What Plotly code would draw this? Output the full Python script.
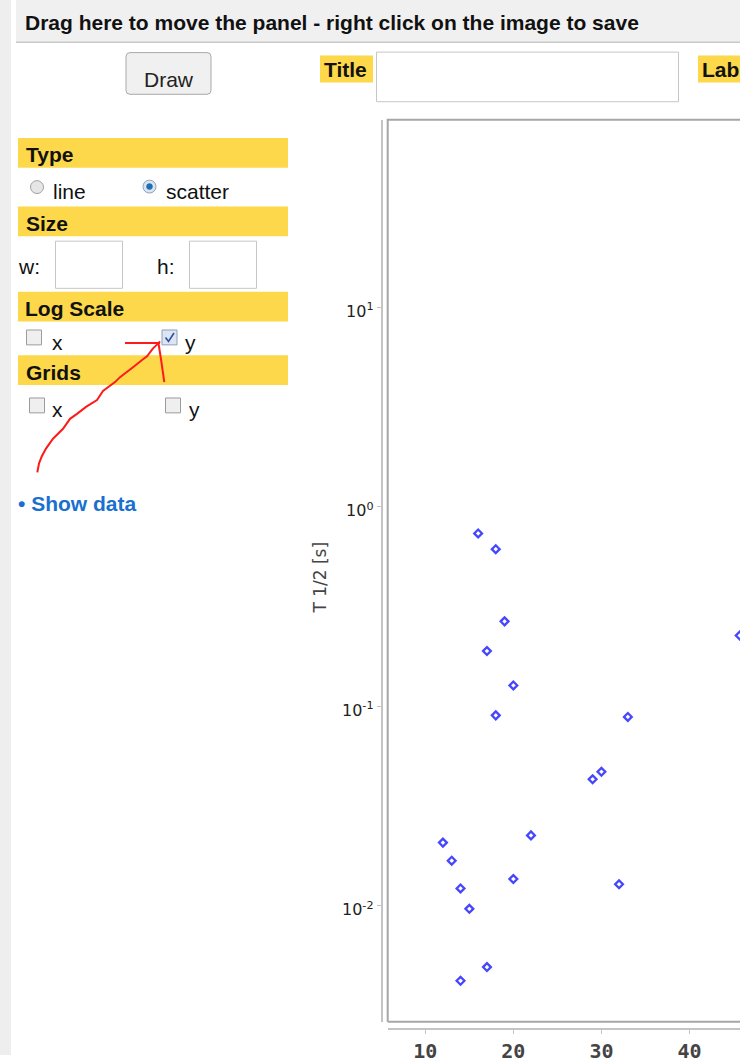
import plotly.graph_objects as go

# ---------------- data ----------------
mass_number = [16, 18, 19, 17, 20, 18, 33, 29, 30, 22, 12, 13, 14, 15, 20, 32, 17, 14, 45.7]
half_life_s = [0.734, 0.612, 0.266, 0.189, 0.127, 0.0899, 0.0883, 0.0430, 0.0469, 0.0225,
               0.0207, 0.0168, 0.0122, 0.00964, 0.0136, 0.0128, 0.00492, 0.0042, 0.226]
x_tick_vals = [10, 20, 30, 40]
y_tick_vals = [0.01, 0.1, 1, 10]
y_tick_text = ["10<sup>-2</sup>", "10<sup>-1</sup>", "10<sup>0</sup>", "10<sup>1</sup>"]
y_title = "T 1/2 [s]"

W, H = 740, 1063
def px(x): return x / W
def py(y): return 1 - y / H

YELLOW = "#fcd84a"
UI_FONT = "Liberation Sans"

fig = go.Figure()
fig.add_trace(go.Scatter(
    x=mass_number, y=half_life_s, mode="markers", cliponaxis=True,
    marker=dict(symbol="diamond-open", size=6, color="#4646ff", line=dict(width=2.3, color="#4646ff")),
    showlegend=False, hoverinfo="x+y"))

# plot geometry (pixels)
L, R, T, B = 387.7, 740, 120.7, 1029.5
YAX_X = 381.7
XAX_Y = 1036.7

shapes = []
def rect(x0, y0, x1, y1, fill=None, line=None, lw=1):
    shapes.append(dict(type="rect", xref="paper", yref="paper",
                       x0=px(x0), x1=px(x1), y0=py(y1), y1=py(y0),
                       fillcolor=fill or "rgba(0,0,0,0)",
                       line=dict(color=line or "rgba(0,0,0,0)", width=lw if line else 0),
                       layer="below"))
def circle(cx, cy, r, fill, line, lw=1):
    shapes.append(dict(type="circle", xref="paper", yref="paper",
                       x0=px(cx - r), x1=px(cx + r), y0=py(cy + r), y1=py(cy - r),
                       fillcolor=fill, line=dict(color=line, width=lw)))
def path(points, color, lw=2, closed=False, fill=None):
    d = "M " + " L ".join(f"{px(x):.5f},{py(y):.5f}" for x, y in points)
    if closed:
        d += " Z"
    shapes.append(dict(type="path", xref="paper", yref="paper", path=d,
                       fillcolor=fill or "rgba(0,0,0,0)", line=dict(color=color, width=lw)))
def rounded(x0, y0, x1, y1, r, fill, line):
    d = (f"M {px(x0+r)},{py(y0)} L {px(x1-r)},{py(y0)} Q {px(x1)},{py(y0)} {px(x1)},{py(y0+r)} "
         f"L {px(x1)},{py(y1-r)} Q {px(x1)},{py(y1)} {px(x1-r)},{py(y1)} "
         f"L {px(x0+r)},{py(y1)} Q {px(x0)},{py(y1)} {px(x0)},{py(y1-r)} "
         f"L {px(x0)},{py(y0+r)} Q {px(x0)},{py(y0)} {px(x0+r)},{py(y0)} Z")
    shapes.append(dict(type="path", xref="paper", yref="paper", path=d,
                       fillcolor=fill, line=dict(color=line, width=1)))

# page chrome
rect(0, 0, 11, H, fill="#eeeeee")
rect(16, 0, 745, 42, fill="#f0f0f0")
path([(16, 42.5), (745, 42.5)], "#c8c8c8", lw=1.5)
rounded(126, 53, 211, 95, 4, "#f0f0f0", "#a9a9a9")
rect(320, 56, 373, 83, fill=YELLOW)
rect(376.5, 52.5, 678.5, 102.5, fill="white", line="#c6c6c6")
rect(698, 56, 745, 83, fill=YELLOW)
for y0 in (139, 208, 294, 358):
    rect(18, y0, 288, y0 + 30, fill=YELLOW)
# radios
circle(37, 188.5, 6.5, "#e6e6e6", "#a0a0a0")
circle(149.5, 188, 6.5, "#dbe5ef", "#8aa4bd")
circle(149.5, 188, 3, "#1e6fb3", "#1e6fb3", lw=0.5)
# size inputs
rect(55.5, 243, 122.5, 290.5, fill="white", line="#c6c6c6")
rect(189.5, 243, 256.5, 290.5, fill="white", line="#c6c6c6")
# checkboxes
for (cx0, cy0) in ((26.5, 332.5), (29.5, 401), (165.5, 401)):
    rect(cx0, cy0, cx0 + 15, cy0 + 15, fill="#efefef", line="#9c9c9c")
rect(162, 332.5, 177, 347.5, fill="#dde5f1", line="#8d9fbd")
path([(165.5, 340), (168.5, 344), (174, 335.5)], "#2a4fa8", lw=1.6)
# red hand-drawn arrow
path([(37.3, 476), (39, 467), (41.7, 460), (46, 452), (53, 442), (63, 432), (70, 422),
      (77, 417), (86, 410), (97, 403), (103, 394), (115, 385), (120, 380), (133, 370),
      (143, 362), (147, 359), (153, 351), (158.3, 346), (160, 344)], "#ff1a1a", lw=2)
path([(125, 345.5), (160, 345.5)], "#ff1a1a", lw=2)
path([(158.5, 346), (161, 362), (164.3, 385)], "#ff1a1a", lw=2)
# plot frame
path([(L, 1029.5), (L, T), (750, T)], "#a6a6a6", lw=2)
path([(L, B), (750, B)], "#a6a6a6", lw=2)

ann = []
def text(x, y, s, size=21, color="#111", xanchor="left", bold=False, family=UI_FONT, angle=0):
    ann.append(dict(x=px(x), y=py(y), xref="paper", yref="paper", showarrow=False,
                    text=f"<b>{s}</b>" if bold else s, xanchor=xanchor, yanchor="middle",
                    textangle=angle, font=dict(family=family, size=size, color=color)))

text(23, 23, "Drag here to move the panel - right click on the image to save", bold=True)
text(168.5, 80, "Draw", color="#222", xanchor="center")
text(322, 70, "Title", bold=True)
text(700, 70, "Lab", bold=True)
text(24, 156, "Type", bold=True)
text(24, 225, "Size", bold=True)
text(23, 311, "Log Scale", bold=True)
text(24, 375, "Grids", bold=True)
text(51, 193, "line")
text(164, 193, "scatter")
text(16, 269, "w:")
text(155, 269, "h:")
text(50, 345, "x")
text(183, 345, "y")
text(50, 413, "x")
text(187, 413, "y")
text(16, 507, "• Show data", color="#1a6fcf", bold=True)
text(320, 582, y_title, size=17, color="#444", xanchor="center", family="DejaVu Sans", angle=-90)

# x range from pixel geometry: tick 10 at 425.3, 8.807 px per unit
xs = 8.807
x_lo = 10 - (425.3 - L) / xs
x_hi = 10 + (R - 425.3) / xs
fig.update_layout(
    width=W, height=H, margin=dict(l=0, r=0, t=0, b=0),
    paper_bgcolor="white", plot_bgcolor="rgba(0,0,0,0)",
    shapes=shapes, annotations=ann,
    xaxis=dict(domain=[px(L), 1], range=[x_lo, x_hi], anchor="free", position=py(XAX_Y),
               showline=True, linecolor="#c4c4c4", linewidth=2, showgrid=False, zeroline=False,
               ticks="outside", ticklen=4, tickcolor="#c4c4c4", tickwidth=1,
               tickvals=x_tick_vals,
               tickfont=dict(family="DejaVu Sans Mono", size=20, color="#444", weight="bold")),
    yaxis=dict(domain=[py(B), py(T)], type="log", range=[-2.582, 1.939], anchor="free",
               position=px(YAX_X), showline=True, linecolor="#c4c4c4", linewidth=2,
               showgrid=False, zeroline=False, ticks="outside", ticklen=4, tickcolor="#c4c4c4",
               tickwidth=1, tickvals=y_tick_vals, ticktext=y_tick_text, ticklabelshift=4,
               tickfont=dict(family="DejaVu Sans", size=16, color="#222")),
)
fig.write_html("out.html", config={"displayModeBar": False},
               post_script="document.body.style.margin='0';document.body.style.overflow='hidden';")
